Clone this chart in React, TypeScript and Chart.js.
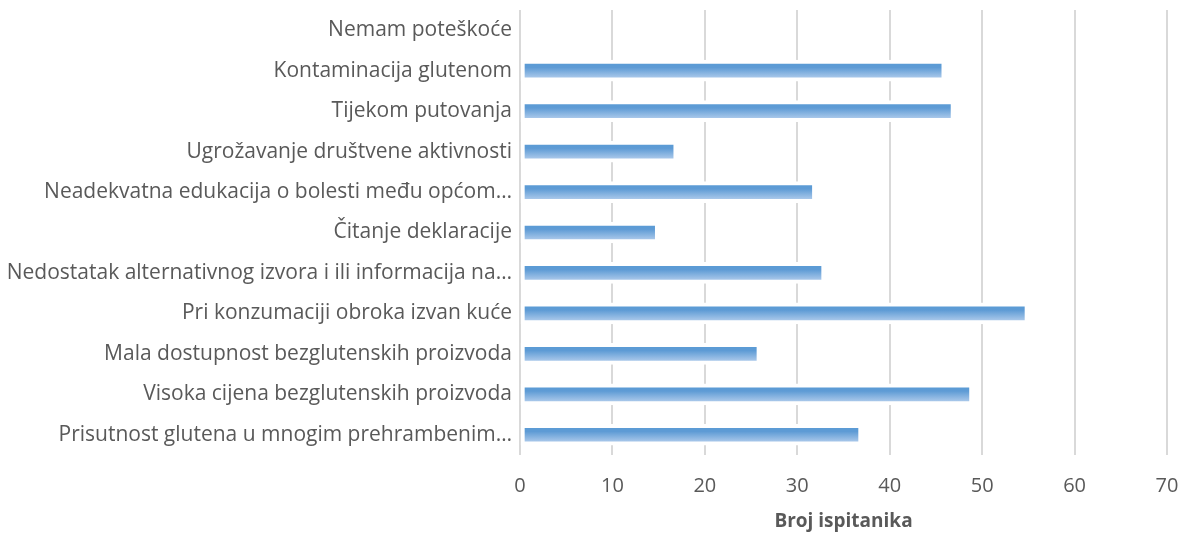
import React, { useEffect, useRef } from "react";
import { Chart, registerables } from "chart.js";

Chart.register(...registerables);

const categories: string[] = [
  "Nemam poteškoće",
  "Kontaminacija glutenom",
  "Tijekom putovanja",
  "Ugrožavanje društvene aktivnosti",
  "Neadekvatna edukacija o bolesti među općom…",
  "Čitanje deklaracije",
  "Nedostatak alternativnog izvora i ili informacija na…",
  "Pri konzumaciji obroka izvan kuće",
  "Mala dostupnost bezglutenskih proizvoda",
  "Visoka cijena bezglutenskih proizvoda",
  "Prisutnost glutena u mnogim prehrambenim…",
];

const values: number[] = [0, 46, 47, 17, 32, 15, 33, 55, 26, 49, 37];

const xTicks = { min: 0, max: 70, step: 10 };
const xTitle = "Broj ispitanika";

const FONT = "'Open Sans', sans-serif";
const BAR = 21;

function barGradient(c: any) {
  const chart = c.chart;
  const yScale = chart.scales?.y;
  if (!yScale || c.dataIndex === undefined) return "#5b9bd5";
  const yc = yScale.getPixelForValue(c.dataIndex);
  if (!isFinite(yc)) return "#5b9bd5";
  const g = chart.ctx.createLinearGradient(0, yc - BAR / 2 + 4, 0, yc + BAR / 2 - 4);
  g.addColorStop(0, "#5b9bd5");
  g.addColorStop(0.25, "#5e9bd5");
  g.addColorStop(1, "#a6c6e9");
  return g;
}

export default function App() {
  const ref = useRef<HTMLCanvasElement | null>(null);
  useEffect(() => {
    if (!ref.current) return;
    const chart = new Chart(ref.current, {
      type: "bar",
      data: {
        labels: categories,
        datasets: [
          {
            data: values,
            backgroundColor: barGradient,
            borderColor: "#ffffff",
            borderWidth: 4,
            borderSkipped: false,
            barThickness: BAR,
          },
        ],
      },
      options: {
        indexAxis: "y",
        animation: false,
        responsive: false,
        maintainAspectRatio: false,
        layout: { padding: { top: 10, right: 22, left: 0, bottom: 0 } },
        plugins: {
          legend: { display: false },
          tooltip: { enabled: false },
        },
        scales: {
          x: {
            min: xTicks.min,
            max: xTicks.max,
            ticks: {
              stepSize: xTicks.step,
              color: "#595959",
              font: { family: FONT, size: 20 },
              padding: 19,
            },
            grid: { color: "#d9d9d9", lineWidth: 2, drawTicks: false },
            border: { display: false },
            title: {
              display: true,
              text: xTitle,
              color: "#595959",
              font: { family: FONT, size: 19, weight: "bold" },
              padding: { top: 8, bottom: 0 },
            },
            afterFit(scale: any) {
              scale.height = 78;
              scale.paddingLeft = 0;
              scale.paddingRight = 0;
            },
          },
          y: {
            ticks: {
              color: "#595959",
              font: { family: FONT, size: 21 },
              padding: 8,
            },
            grid: { display: false, drawTicks: false },
            border: { display: false },
            afterFit(scale: any) {
              scale.width = 520;
              scale.paddingTop = 0;
              scale.paddingBottom = 0;
            },
          },
        },
      },
    });
    return () => chart.destroy();
  }, []);
  return (
    <div style={{ position: "fixed", left: 0, top: 0, width: 1189, height: 533, background: "#fff" }}>
      <canvas ref={ref} width={1189} height={533} style={{ width: 1189, height: 533 }} />
    </div>
  );
}
